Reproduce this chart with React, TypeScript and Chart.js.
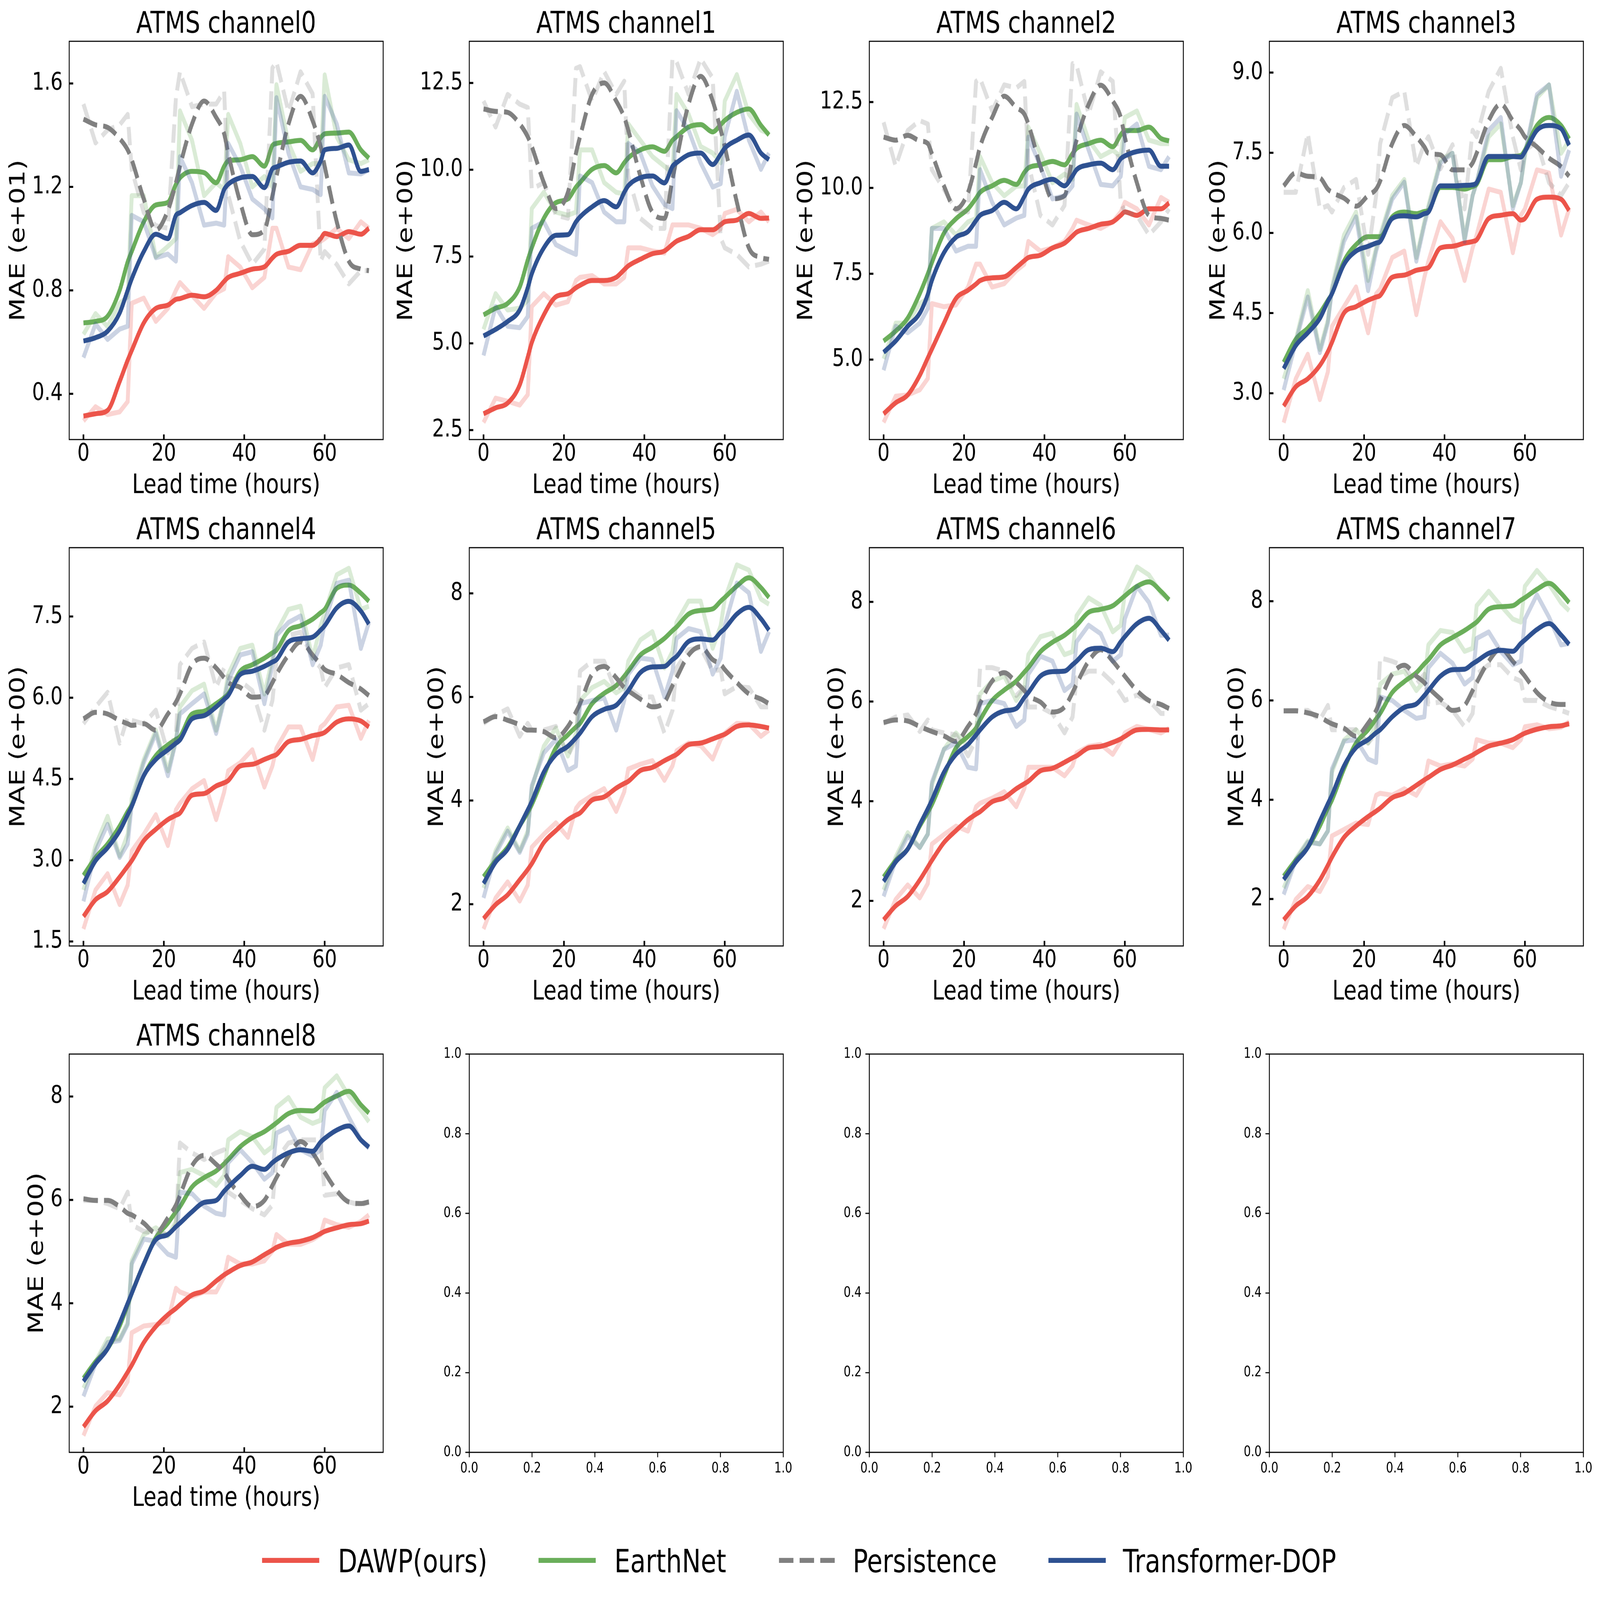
import React, { useEffect, useRef } from "react";
import { Chart, registerables } from "chart.js";

Chart.register(...registerables);

// ---------------- data ----------------
const HOURS = [0, 3, 6, 9, 12, 15, 18, 21, 24, 27, 30, 33, 36, 39, 42, 45, 48, 51, 54, 57, 60, 63, 66, 69, 71];
// extra readings just before the 12-hourly jumps
const EXTRA_HOURS = [11, 23, 35, 47, 59];
const X_TICKS = [0, 20, 40, 60];
const X_TICK_LABELS = ["0", "20", "40", "60"];
const X_TITLE = "Lead time (hours)";

const TITLES = ["ATMS channel0", "ATMS channel1", "ATMS channel2", "ATMS channel3", "ATMS channel4", "ATMS channel5", "ATMS channel6", "ATMS channel7", "ATMS channel8"];
const Y_TITLES = ["MAE (e+01)", "MAE (e+00)", "MAE (e+00)", "MAE (e+00)", "MAE (e+00)", "MAE (e+00)", "MAE (e+00)", "MAE (e+00)", "MAE (e+00)"];
const Y_MIN = [0.223, 2.227, 2.67, 2.133, 1.416, 1.193, 1.096, 1.053, 1.116];
const Y_MAX = [1.763, 13.70, 14.27, 9.586, 8.771, 8.882, 9.087, 9.079, 8.821];
const Y_TICKS = [
  [0.4, 0.8, 1.2, 1.6],
  [2.5, 5, 7.5, 10, 12.5],
  [5, 7.5, 10, 12.5],
  [3, 4.5, 6, 7.5, 9],
  [1.5, 3, 4.5, 6, 7.5],
  [2, 4, 6, 8],
  [2, 4, 6, 8],
  [2, 4, 6, 8],
  [2, 4, 6, 8],
];
const Y_TICK_LABELS = [
  ["0.4", "0.8", "1.2", "1.6"],
  ["2.5", "5.0", "7.5", "10.0", "12.5"],
  ["5.0", "7.5", "10.0", "12.5"],
  ["3.0", "4.5", "6.0", "7.5", "9.0"],
  ["1.5", "3.0", "4.5", "6.0", "7.5"],
  ["2", "4", "6", "8"],
  ["2", "4", "6", "8"],
  ["2", "4", "6", "8"],
  ["2", "4", "6", "8"],
];
const EMPTY_TICKS = [0, 0.2, 0.4, 0.6, 0.8, 1.0];
const EMPTY_TICK_LABELS = ["0.0", "0.2", "0.4", "0.6", "0.8", "1.0"];

// channel 0
const DAWP_CH0 = [0.314, 0.323, 0.336, 0.447, 0.567, 0.674, 0.73, 0.743, 0.768, 0.781, 0.775, 0.80, 0.85, 0.866, 0.882, 0.891, 0.939, 0.951, 0.974, 0.974, 1.02, 1.008, 1.027, 1.017, 1.04];
const DAWP_RAW_CH0 = [0.295, 0.35, 0.32, 0.33, 0.75, 0.77, 0.68, 0.73, 0.83, 0.78, 0.73, 0.79, 0.93, 0.89, 0.81, 0.85, 1.04, 0.89, 0.88, 0.98, 1.0, 1.04, 1.0, 1.065, 1.04];
const EARTHNET_CH0 = [0.674, 0.68, 0.70, 0.80, 0.95, 1.065, 1.13, 1.14, 1.235, 1.26, 1.255, 1.216, 1.30, 1.305, 1.317, 1.28, 1.368, 1.374, 1.38, 1.343, 1.405, 1.408, 1.412, 1.343, 1.311];
const EARTHNET_RAW_CH0 = [0.63, 0.71, 0.66, 0.75, 1.166, 1.166, 0.93, 0.97, 1.494, 1.38, 1.166, 1.216, 1.48, 1.368, 1.2, 1.24, 1.595, 1.37, 1.26, 1.29, 1.633, 1.393, 1.305, 1.29, 1.305];
const PERSIST_CH0 = [1.462, 1.44, 1.43, 1.387, 1.305, 1.153, 1.033, 1.109, 1.28, 1.443, 1.532, 1.469, 1.33, 1.14, 1.015, 1.033, 1.24, 1.443, 1.55, 1.456, 1.28, 1.065, 0.913, 0.882, 0.876];
const PERSIST_RAW_CH0 = [1.52, 1.37, 1.42, 1.44, 1.267, 1.10, 1.05, 1.04, 1.645, 1.51, 1.52, 1.52, 1.17, 0.99, 0.90, 0.96, 1.683, 1.49, 1.645, 1.56, 0.95, 0.90, 0.825, 0.876, 0.876];
const TDOP_CH0 = [0.604, 0.617, 0.642, 0.712, 0.844, 0.95, 1.017, 1.0, 1.10, 1.128, 1.14, 1.109, 1.21, 1.235, 1.24, 1.197, 1.277, 1.295, 1.30, 1.254, 1.343, 1.349, 1.362, 1.26, 1.267];
const TDOP_RAW_CH0 = [0.54, 0.67, 0.61, 0.65, 1.09, 1.065, 0.926, 0.94, 1.317, 1.216, 1.052, 1.06, 1.368, 1.28, 1.153, 1.115, 1.545, 1.33, 1.20, 1.19, 1.55, 1.443, 1.254, 1.25, 1.267];

// channel 1
const DAWP_CH1 = [2.97, 3.14, 3.28, 3.80, 5.02, 5.82, 6.34, 6.43, 6.67, 6.81, 6.81, 6.90, 7.23, 7.42, 7.58, 7.66, 7.94, 8.08, 8.27, 8.27, 8.50, 8.55, 8.74, 8.60, 8.61];
const DAWP_RAW_CH1 = [2.72, 3.42, 3.33, 3.22, 6.06, 6.43, 6.10, 6.20, 6.90, 6.95, 6.71, 6.71, 7.75, 7.75, 7.66, 7.60, 8.41, 8.41, 8.31, 8.13, 8.74, 8.86, 8.50, 8.78, 8.50];
const EARTHNET_CH1 = [5.82, 6.01, 6.15, 6.62, 7.75, 8.60, 9.05, 9.16, 9.63, 10.01, 10.12, 9.91, 10.34, 10.57, 10.66, 10.53, 10.95, 11.23, 11.30, 11.09, 11.42, 11.65, 11.75, 11.28, 11.0];
const EARTHNET_RAW_CH1 = [5.40, 6.43, 5.96, 6.01, 8.88, 9.35, 8.78, 8.69, 10.57, 10.57, 9.63, 9.35, 11.32, 10.85, 10.38, 10.10, 12.17, 11.60, 10.67, 10.48, 11.98, 12.74, 11.60, 11.14, 11.04];
const PERSIST_CH1 = [11.75, 11.68, 11.65, 11.32, 10.67, 9.63, 8.88, 9.35, 10.95, 12.17, 12.50, 11.98, 11.14, 9.82, 8.78, 8.60, 10.29, 11.89, 12.69, 11.98, 10.67, 9.07, 7.75, 7.47, 7.42];
const PERSIST_RAW_CH1 = [11.98, 11.23, 12.17, 11.89, 9.44, 9.63, 8.69, 8.60, 12.97, 11.98, 12.83, 12.17, 9.82, 8.60, 8.31, 8.31, 13.11, 12.17, 13.20, 12.64, 7.75, 7.56, 7.20, 7.28, 7.37];
const TDOP_CH1 = [5.21, 5.40, 5.63, 5.96, 7.0, 7.75, 8.11, 8.13, 8.64, 8.93, 9.11, 8.93, 9.54, 9.77, 9.82, 9.62, 10.20, 10.43, 10.48, 10.15, 10.62, 10.85, 11.0, 10.48, 10.29];
const TDOP_RAW_CH1 = [4.65, 6.06, 5.49, 5.45, 8.31, 8.50, 7.84, 7.66, 9.82, 9.63, 8.78, 8.50, 10.76, 10.48, 9.54, 9.0, 11.70, 11.14, 10.20, 9.50, 10.95, 12.26, 10.85, 10.01, 10.48];

// channel 2
const DAWP_CH2 = [3.42, 3.74, 3.97, 4.54, 5.30, 6.06, 6.78, 7.02, 7.30, 7.38, 7.41, 7.68, 7.97, 8.04, 8.25, 8.39, 8.71, 8.82, 8.94, 9.01, 9.30, 9.20, 9.39, 9.39, 9.56];
const DAWP_RAW_CH2 = [3.17, 3.93, 3.97, 4.12, 6.63, 6.54, 6.59, 7.11, 7.78, 7.11, 7.21, 7.59, 8.44, 8.16, 8.25, 8.44, 9.06, 8.92, 8.82, 9.01, 9.58, 9.39, 8.92, 9.72, 9.58];
const EARTHNET_CH2 = [5.54, 5.83, 6.21, 6.92, 7.82, 8.68, 9.10, 9.39, 9.87, 10.06, 10.22, 10.10, 10.58, 10.67, 10.77, 10.67, 11.15, 11.29, 11.39, 11.20, 11.67, 11.67, 11.77, 11.44, 11.37];
const EARTHNET_RAW_CH2 = [5.02, 6.06, 6.06, 6.63, 8.82, 9.01, 8.63, 9.01, 10.91, 10.15, 9.77, 10.05, 11.77, 11.0, 10.15, 10.40, 12.43, 11.39, 10.91, 11.10, 12.05, 12.24, 11.39, 11.29, 11.29];
const PERSIST_CH2 = [11.48, 11.39, 11.53, 11.37, 11.0, 10.06, 9.39, 9.87, 11.20, 12.05, 12.67, 12.34, 11.86, 10.63, 9.68, 9.77, 11.39, 12.43, 12.99, 12.53, 11.48, 10.15, 9.20, 9.11, 9.06];
const PERSIST_RAW_CH2 = [11.91, 10.63, 11.67, 11.96, 10.53, 9.96, 9.35, 9.30, 13.19, 12.24, 13.0, 12.91, 10.72, 9.20, 8.92, 9.49, 13.57, 12.15, 13.38, 13.10, 9.30, 9.20, 8.63, 9.01, 9.39];
const TDOP_CH2 = [5.21, 5.54, 5.97, 6.35, 7.30, 8.11, 8.56, 8.73, 9.20, 9.34, 9.58, 9.39, 9.96, 10.15, 10.25, 10.06, 10.53, 10.67, 10.72, 10.53, 10.93, 11.06, 11.10, 10.63, 10.63];
const TDOP_RAW_CH2 = [4.69, 5.97, 5.78, 6.06, 8.82, 8.82, 8.16, 8.30, 10.53, 9.58, 8.92, 9.12, 11.48, 10.63, 9.68, 9.77, 12.15, 11.10, 10.10, 10.06, 11.58, 11.86, 10.63, 10.53, 10.91];

// channel 3
const DAWP_CH3 = [2.76, 3.12, 3.27, 3.52, 3.95, 4.50, 4.62, 4.74, 4.83, 5.17, 5.21, 5.30, 5.35, 5.72, 5.75, 5.81, 5.87, 6.27, 6.33, 6.36, 6.27, 6.63, 6.67, 6.63, 6.42];
const DAWP_RAW_CH3 = [2.45, 3.27, 3.73, 2.88, 4.25, 4.62, 4.99, 4.13, 4.95, 5.54, 5.66, 4.47, 5.47, 6.21, 5.90, 5.11, 5.96, 6.82, 6.76, 5.63, 6.45, 7.18, 7.12, 5.96, 6.45];
const EARTHNET_CH3 = [3.58, 4.01, 4.22, 4.50, 4.86, 5.47, 5.78, 5.93, 5.93, 6.30, 6.39, 6.36, 6.42, 6.85, 6.85, 6.82, 6.91, 7.37, 7.37, 7.43, 7.55, 8.01, 8.16, 8.01, 7.76];
const EARTHNET_RAW_CH3 = [3.27, 4.0, 4.92, 3.82, 4.98, 5.96, 6.39, 5.11, 5.96, 6.70, 7.0, 5.54, 6.51, 7.37, 7.49, 5.90, 6.94, 7.80, 8.04, 6.51, 7.43, 8.53, 8.77, 7.49, 7.73];
const PERSIST_CH3 = [6.88, 7.12, 7.06, 7.03, 6.76, 6.65, 6.50, 6.70, 6.97, 7.67, 8.01, 7.80, 7.49, 7.46, 7.18, 7.18, 7.49, 8.10, 8.41, 8.10, 7.80, 7.61, 7.40, 7.24, 7.06];
const PERSIST_RAW_CH3 = [6.76, 6.76, 7.86, 6.45, 6.39, 6.85, 7.0, 5.60, 7.67, 8.53, 8.65, 7.24, 7.80, 7.20, 7.65, 6.45, 7.80, 8.65, 9.08, 7.80, 7.55, 7.70, 6.94, 6.70, 6.94];
const TDOP_CH3 = [3.46, 3.89, 4.13, 4.40, 4.86, 5.41, 5.66, 5.75, 5.84, 6.27, 6.32, 6.30, 6.39, 6.88, 6.88, 6.89, 6.94, 7.43, 7.43, 7.43, 7.52, 7.92, 8.01, 7.95, 7.64];
const TDOP_RAW_CH3 = [3.06, 3.95, 4.80, 3.76, 4.92, 5.84, 6.30, 4.92, 5.90, 6.63, 6.95, 5.47, 6.45, 7.31, 7.49, 5.84, 6.94, 7.92, 8.16, 6.45, 7.49, 8.59, 8.77, 7.06, 7.55];

// channel 4
const DAWP_CH4 = [1.96, 2.27, 2.42, 2.69, 2.99, 3.36, 3.57, 3.75, 3.87, 4.20, 4.23, 4.37, 4.47, 4.74, 4.77, 4.86, 4.95, 5.19, 5.23, 5.30, 5.36, 5.55, 5.61, 5.57, 5.46];
const DAWP_RAW_CH4 = [1.73, 2.45, 2.75, 2.18, 3.17, 3.48, 3.84, 3.27, 4.05, 4.32, 4.47, 3.75, 4.65, 4.80, 5.04, 4.35, 5.07, 5.46, 5.46, 4.86, 5.52, 5.83, 5.86, 5.25, 5.58];
const EARTHNET_CH4 = [2.72, 3.05, 3.30, 3.63, 4.02, 4.56, 4.93, 5.13, 5.28, 5.70, 5.75, 5.89, 6.07, 6.49, 6.61, 6.73, 6.88, 7.24, 7.33, 7.45, 7.63, 8.02, 8.08, 7.93, 7.78];
const EARTHNET_RAW_CH4 = [2.45, 3.27, 3.81, 3.08, 4.14, 4.86, 5.40, 4.65, 5.83, 6.13, 6.25, 5.40, 6.43, 6.91, 6.97, 6.07, 7.21, 7.63, 7.69, 6.73, 7.57, 8.27, 8.39, 7.63, 7.69];
const PERSIST_CH4 = [5.61, 5.73, 5.70, 5.58, 5.49, 5.52, 5.40, 5.70, 6.07, 6.61, 6.73, 6.55, 6.28, 6.19, 6.01, 6.04, 6.43, 6.79, 7.03, 6.79, 6.52, 6.43, 6.28, 6.16, 6.04];
const PERSIST_RAW_CH4 = [5.52, 5.83, 6.10, 5.16, 5.58, 5.52, 5.77, 4.98, 6.61, 6.91, 7.03, 6.19, 6.37, 6.31, 6.13, 5.40, 6.67, 7.15, 7.21, 6.73, 6.19, 6.55, 6.61, 5.77, 5.89];
const TDOP_CH4 = [2.57, 2.99, 3.23, 3.54, 3.99, 4.56, 4.86, 5.04, 5.22, 5.61, 5.67, 5.83, 6.04, 6.43, 6.49, 6.58, 6.70, 7.03, 7.09, 7.12, 7.33, 7.66, 7.78, 7.60, 7.36];
const TDOP_RAW_CH4 = [2.24, 3.17, 3.66, 3.05, 4.02, 4.80, 5.34, 4.56, 5.70, 5.89, 6.07, 5.34, 6.31, 6.79, 6.85, 5.89, 7.15, 7.39, 7.51, 6.61, 7.39, 8.11, 8.17, 6.91, 7.39];

// channel 5
const DAWP_CH5 = [1.72, 1.99, 2.18, 2.47, 2.78, 3.19, 3.42, 3.63, 3.76, 4.01, 4.07, 4.24, 4.37, 4.58, 4.64, 4.77, 4.89, 5.08, 5.11, 5.19, 5.28, 5.43, 5.46, 5.43, 5.40];
const DAWP_RAW_CH5 = [1.52, 2.12, 2.43, 2.06, 3.10, 3.35, 3.57, 3.29, 3.95, 4.10, 4.23, 3.79, 4.61, 4.70, 4.77, 4.39, 4.96, 5.11, 5.06, 4.80, 5.30, 5.49, 5.48, 5.24, 5.36];
const EARTHNET_CH5 = [2.53, 2.84, 3.10, 3.51, 3.92, 4.48, 5.02, 5.27, 5.49, 5.87, 6.07, 6.22, 6.50, 6.81, 6.96, 7.13, 7.35, 7.60, 7.67, 7.70, 7.92, 8.14, 8.30, 8.11, 7.92];
const EARTHNET_RAW_CH5 = [2.31, 3.03, 3.47, 3.03, 4.23, 5.05, 5.40, 4.86, 5.93, 6.18, 6.30, 6.08, 6.69, 7.10, 7.26, 6.56, 7.44, 7.85, 7.85, 6.94, 7.89, 8.55, 8.45, 7.89, 7.79];
const PERSIST_CH5 = [5.52, 5.62, 5.55, 5.46, 5.36, 5.33, 5.21, 5.43, 5.87, 6.44, 6.59, 6.37, 6.12, 5.96, 5.81, 5.90, 6.37, 6.81, 6.97, 6.72, 6.53, 6.28, 6.06, 5.96, 5.87];
const PERSIST_RAW_CH5 = [5.49, 5.65, 5.77, 5.24, 5.36, 5.36, 5.43, 4.86, 6.50, 6.69, 6.69, 6.09, 6.18, 6.0, 6.0, 5.30, 6.56, 6.91, 6.95, 6.50, 6.06, 6.20, 6.18, 5.81, 5.81];
const TDOP_CH5 = [2.40, 2.81, 3.06, 3.51, 3.98, 4.55, 4.89, 5.05, 5.30, 5.62, 5.76, 5.84, 6.12, 6.47, 6.58, 6.59, 6.78, 7.07, 7.12, 7.10, 7.32, 7.60, 7.73, 7.51, 7.29];
const TDOP_RAW_CH5 = [2.12, 2.97, 3.41, 3.0, 4.29, 4.92, 5.18, 4.58, 5.87, 5.93, 5.98, 5.36, 6.44, 6.75, 6.72, 6.0, 7.13, 7.32, 7.26, 6.44, 7.38, 8.20, 8.01, 6.88, 7.26];

// channel 6
const DAWP_CH6 = [1.62, 1.90, 2.09, 2.42, 2.81, 3.17, 3.41, 3.63, 3.79, 3.99, 4.07, 4.25, 4.40, 4.61, 4.66, 4.78, 4.91, 5.07, 5.10, 5.18, 5.30, 5.43, 5.44, 5.43, 5.43];
const DAWP_RAW_CH6 = [1.44, 2.03, 2.32, 2.06, 3.14, 3.33, 3.50, 3.40, 3.96, 4.06, 4.19, 3.89, 4.68, 4.68, 4.68, 4.51, 4.97, 5.10, 5.14, 4.94, 5.37, 5.50, 5.44, 5.37, 5.46];
const EARTHNET_CH6 = [2.48, 2.81, 3.04, 3.50, 3.93, 4.51, 5.07, 5.30, 5.63, 6.02, 6.23, 6.41, 6.68, 7.0, 7.19, 7.33, 7.53, 7.79, 7.85, 7.92, 8.12, 8.31, 8.40, 8.21, 8.04];
const EARTHNET_RAW_CH6 = [2.22, 2.88, 3.37, 3.07, 4.32, 5.04, 5.37, 5.10, 6.15, 6.41, 6.51, 6.02, 6.94, 7.30, 7.37, 6.94, 7.72, 8.08, 7.93, 7.40, 8.18, 8.70, 8.54, 8.18, 8.05];
const PERSIST_CH6 = [5.58, 5.63, 5.61, 5.50, 5.40, 5.31, 5.20, 5.50, 5.96, 6.41, 6.58, 6.38, 6.12, 5.99, 5.79, 5.89, 6.35, 6.81, 7.04, 6.81, 6.51, 6.22, 6.02, 5.94, 5.86];
const PERSIST_RAW_CH6 = [5.56, 5.69, 5.73, 5.40, 5.43, 5.37, 5.33, 4.91, 6.68, 6.68, 6.61, 6.12, 5.89, 5.89, 5.76, 5.37, 6.48, 6.61, 6.61, 6.38, 6.02, 6.13, 6.02, 5.76, 5.76];
const TDOP_CH6 = [2.39, 2.78, 3.04, 3.53, 4.02, 4.58, 4.94, 5.14, 5.43, 5.69, 5.81, 5.86, 6.18, 6.51, 6.60, 6.61, 6.81, 7.04, 7.07, 7.0, 7.30, 7.56, 7.67, 7.43, 7.23];
const TDOP_RAW_CH6 = [2.09, 2.81, 3.30, 3.07, 4.38, 5.04, 5.17, 4.68, 5.96, 6.02, 5.96, 5.50, 6.55, 6.91, 6.81, 6.22, 7.20, 7.53, 7.36, 6.81, 7.66, 8.31, 7.99, 7.33, 7.33];

// channel 7
const DAWP_CH7 = [1.58, 1.86, 2.05, 2.38, 2.84, 3.24, 3.47, 3.66, 3.83, 4.04, 4.13, 4.29, 4.45, 4.61, 4.70, 4.82, 4.95, 5.08, 5.14, 5.21, 5.34, 5.42, 5.47, 5.49, 5.53];
const DAWP_RAW_CH7 = [1.39, 1.99, 2.25, 2.15, 3.27, 3.40, 3.53, 3.50, 4.13, 4.09, 4.22, 4.09, 4.78, 4.68, 4.72, 4.68, 5.21, 5.14, 5.14, 5.05, 5.47, 5.51, 5.43, 5.46, 5.57];
const EARTHNET_CH7 = [2.46, 2.78, 3.04, 3.47, 3.99, 4.62, 5.14, 5.41, 5.74, 6.16, 6.38, 6.56, 6.82, 7.12, 7.27, 7.41, 7.58, 7.84, 7.89, 7.91, 8.07, 8.24, 8.36, 8.16, 7.97];
const EARTHNET_RAW_CH7 = [2.22, 2.81, 3.17, 3.11, 4.55, 5.20, 5.41, 5.14, 6.33, 6.53, 6.59, 6.20, 7.12, 7.41, 7.37, 6.99, 7.91, 8.20, 7.91, 7.64, 8.30, 8.62, 8.34, 7.97, 7.81];
const PERSIST_CH7 = [5.79, 5.79, 5.75, 5.67, 5.53, 5.44, 5.28, 5.54, 6.0, 6.53, 6.71, 6.49, 6.26, 6.03, 5.80, 5.90, 6.36, 6.79, 7.04, 6.79, 6.49, 6.16, 5.97, 5.92, 5.92];
const PERSIST_RAW_CH7 = [5.79, 5.80, 5.80, 5.61, 5.41, 5.41, 5.41, 5.14, 6.86, 6.79, 6.69, 6.33, 5.93, 5.97, 5.80, 5.47, 6.53, 6.72, 6.72, 6.46, 6.0, 6.0, 5.88, 5.80, 5.74];
const TDOP_CH7 = [2.39, 2.74, 3.04, 3.57, 4.09, 4.68, 5.05, 5.21, 5.41, 5.67, 5.86, 5.93, 6.20, 6.49, 6.62, 6.63, 6.79, 6.95, 7.01, 6.99, 7.22, 7.43, 7.55, 7.32, 7.13];
const TDOP_RAW_CH7 = [2.09, 2.78, 3.14, 3.11, 4.62, 5.18, 5.21, 4.82, 6.07, 6.0, 5.80, 5.64, 6.66, 6.95, 6.75, 6.33, 7.25, 7.38, 6.99, 6.72, 7.64, 8.13, 7.68, 7.12, 7.15];

// channel 8
const DAWP_CH8 = [1.61, 1.92, 2.11, 2.42, 2.80, 3.24, 3.55, 3.78, 3.97, 4.16, 4.24, 4.43, 4.60, 4.73, 4.80, 4.94, 5.08, 5.16, 5.20, 5.27, 5.39, 5.46, 5.52, 5.54, 5.59];
const DAWP_RAW_CH8 = [1.44, 2.01, 2.27, 2.23, 3.43, 3.56, 3.59, 3.65, 4.22, 4.13, 4.22, 4.22, 4.89, 4.76, 4.76, 4.82, 5.33, 5.14, 5.14, 5.23, 5.61, 5.52, 5.47, 5.58, 5.71];
const EARTHNET_CH8 = [2.55, 2.87, 3.12, 3.56, 4.19, 4.76, 5.27, 5.55, 5.87, 6.25, 6.43, 6.56, 6.78, 7.03, 7.20, 7.32, 7.49, 7.67, 7.73, 7.72, 7.89, 8.01, 8.10, 7.84, 7.68];
const EARTHNET_RAW_CH8 = [2.36, 2.87, 3.31, 3.31, 4.82, 5.33, 5.46, 5.30, 6.53, 6.59, 6.47, 6.28, 7.16, 7.32, 7.22, 6.91, 7.79, 7.98, 7.60, 7.48, 8.17, 8.40, 8.01, 7.73, 7.51];
const PERSIST_CH8 = [6.02, 5.99, 5.99, 5.87, 5.71, 5.55, 5.36, 5.65, 6.09, 6.66, 6.86, 6.69, 6.40, 6.09, 5.87, 5.99, 6.43, 6.85, 7.13, 6.91, 6.53, 6.18, 5.96, 5.93, 5.96];
const PERSIST_RAW_CH8 = [5.99, 5.99, 5.93, 5.83, 5.52, 5.39, 5.36, 5.33, 7.10, 6.91, 6.78, 6.91, 6.15, 5.99, 5.83, 5.71, 6.78, 7.10, 7.16, 7.16, 6.09, 6.12, 5.96, 5.90, 5.96];
const TDOP_CH8 = [2.49, 2.83, 3.12, 3.62, 4.19, 4.76, 5.23, 5.33, 5.55, 5.77, 5.95, 5.99, 6.25, 6.47, 6.65, 6.59, 6.78, 6.91, 6.97, 6.94, 7.19, 7.35, 7.43, 7.16, 7.02];
const TDOP_RAW_CH8 = [2.20, 2.83, 3.24, 3.28, 4.76, 5.24, 5.20, 4.95, 6.15, 6.12, 5.88, 5.74, 6.72, 6.97, 6.72, 6.40, 7.29, 7.41, 6.97, 6.85, 7.73, 8.08, 7.60, 7.16, 7.0];

// readings at EXTRA_HOURS (11, 23, 35, 47, 59), one row per channel
const DAWP_EXTRA = [
  [0.53, 0.765, 0.835, 0.925, 1.00],
  [4.6, 6.6, 7.12, 7.85, 8.42],
  [5.05, 7.2, 7.88, 8.6, 9.2],
  [3.78, 4.80, 5.33, 5.84, 6.24],
  [2.89, 3.83, 4.43, 4.92, 5.33],
  [2.67, 3.72, 4.33, 4.85, 5.25],
  [2.68, 3.74, 4.35, 4.87, 5.25],
  [2.68, 3.77, 4.40, 4.90, 5.30],
  [2.67, 3.90, 4.55, 5.03, 5.35],
];
const DAWP_RAW_EXTRA = [
  [0.37, 0.80, 0.806, 1.04, 0.99],
  [3.52, 6.81, 6.90, 8.41, 8.3],
  [4.45, 7.78, 7.78, 8.82, 9.3],
  [3.40, 4.86, 5.17, 5.72, 6.33],
  [2.54, 3.93, 4.26, 4.74, 5.46],
  [2.37, 3.85, 4.17, 4.67, 5.18],
  [2.35, 3.89, 4.25, 4.71, 5.20],
  [2.45, 4.09, 4.36, 4.82, 5.21],
  [2.49, 4.29, 4.51, 5.01, 5.33],
];
const EARTHNET_EXTRA = [
  [0.91, 1.21, 1.28, 1.36, 1.39],
  [7.4, 9.5, 10.2, 10.85, 11.3],
  [7.5, 9.7, 10.45, 11.0, 11.55],
  [4.74, 5.93, 6.40, 6.87, 7.45],
  [3.9, 5.23, 6.0, 6.83, 7.57],
  [3.77, 5.42, 6.40, 7.28, 7.85],
  [3.78, 5.47, 6.59, 7.46, 8.05],
  [3.83, 5.63, 6.74, 7.52, 8.02],
  [3.97, 5.77, 6.70, 7.43, 7.83],
];
const EARTHNET_RAW_EXTRA = [
  [0.775, 1.0, 1.19, 1.20, 1.29],
  [6.24, 8.78, 9.30, 9.91, 10.2],
  [6.78, 9.11, 10.06, 10.25, 10.91],
  [4.37, 5.72, 6.21, 6.70, 6.94],
  [3.48, 5.22, 6.01, 6.73, 7.33],
  [3.41, 5.30, 6.18, 6.88, 7.38],
  [3.34, 5.43, 6.28, 7.0, 7.53],
  [3.37, 5.54, 6.39, 7.05, 7.58],
  [3.62, 5.58, 6.47, 7.03, 7.54],
];
const PERSIST_EXTRA = [
  [1.343, 1.216, 1.405, 1.166, 1.355],
  [10.95, 10.48, 11.51, 9.73, 11.14],
  [11.29, 10.72, 12.15, 10.91, 12.05],
  [6.82, 6.82, 7.61, 7.31, 7.92],
  [5.52, 5.92, 6.37, 6.28, 6.61],
  [5.36, 5.71, 6.18, 6.22, 6.63],
  [5.43, 5.76, 6.22, 6.18, 6.61],
  [5.57, 5.80, 6.36, 6.20, 6.59],
  [5.74, 5.90, 6.53, 6.28, 6.66],
];
const PERSIST_RAW_EXTRA = [
  [1.48, 1.545, 1.57, 1.66, 0.913],
  [11.79, 12.92, 12.55, 13.2, 8.03],
  [11.86, 13.1, 13.1, 13.62, 9.58],
  [6.51, 6.70, 7.67, 7.92, 7.18],
  [5.64, 5.34, 6.55, 5.95, 6.55],
  [5.49, 5.18, 6.37, 5.74, 6.53],
  [5.63, 5.24, 6.28, 5.69, 6.15],
  [5.90, 5.34, 6.53, 5.74, 6.39],
  [6.15, 5.52, 6.97, 5.90, 7.16],
];
const TDOP_EXTRA = [
  [0.80, 1.09, 1.19, 1.27, 1.30],
  [6.6, 8.5, 9.35, 10.1, 10.45],
  [6.9, 9.05, 9.75, 10.35, 10.85],
  [4.72, 5.81, 6.36, 6.90, 7.42],
  [3.84, 5.16, 5.97, 6.66, 7.25],
  [3.82, 5.21, 6.02, 6.72, 7.25],
  [3.85, 5.33, 6.08, 6.74, 7.2],
  [3.92, 5.35, 6.1, 6.74, 7.15],
  [4.0, 5.48, 6.17, 6.72, 7.12],
];
const TDOP_RAW_EXTRA = [
  [0.661, 0.913, 1.052, 1.08, 1.17],
  [5.77, 7.56, 8.50, 8.88, 9.6],
  [6.49, 8.30, 9.20, 10.06, 10.34],
  [4.31, 5.66, 6.15, 6.70, 6.94],
  [3.30, 5.2, 5.95, 6.6, 6.97],
  [3.35, 4.67, 5.93, 6.50, 6.75],
  [3.34, 4.65, 5.63, 6.35, 6.94],
  [3.37, 4.75, 5.67, 6.46, 6.79],
  [3.59, 4.89, 5.71, 6.53, 6.97],
];

const DAWP = [DAWP_CH0, DAWP_CH1, DAWP_CH2, DAWP_CH3, DAWP_CH4, DAWP_CH5, DAWP_CH6, DAWP_CH7, DAWP_CH8];
const DAWP_RAW = [DAWP_RAW_CH0, DAWP_RAW_CH1, DAWP_RAW_CH2, DAWP_RAW_CH3, DAWP_RAW_CH4, DAWP_RAW_CH5, DAWP_RAW_CH6, DAWP_RAW_CH7, DAWP_RAW_CH8];
const EARTHNET = [EARTHNET_CH0, EARTHNET_CH1, EARTHNET_CH2, EARTHNET_CH3, EARTHNET_CH4, EARTHNET_CH5, EARTHNET_CH6, EARTHNET_CH7, EARTHNET_CH8];
const EARTHNET_RAW = [EARTHNET_RAW_CH0, EARTHNET_RAW_CH1, EARTHNET_RAW_CH2, EARTHNET_RAW_CH3, EARTHNET_RAW_CH4, EARTHNET_RAW_CH5, EARTHNET_RAW_CH6, EARTHNET_RAW_CH7, EARTHNET_RAW_CH8];
const PERSIST = [PERSIST_CH0, PERSIST_CH1, PERSIST_CH2, PERSIST_CH3, PERSIST_CH4, PERSIST_CH5, PERSIST_CH6, PERSIST_CH7, PERSIST_CH8];
const PERSIST_RAW = [PERSIST_RAW_CH0, PERSIST_RAW_CH1, PERSIST_RAW_CH2, PERSIST_RAW_CH3, PERSIST_RAW_CH4, PERSIST_RAW_CH5, PERSIST_RAW_CH6, PERSIST_RAW_CH7, PERSIST_RAW_CH8];
const TDOP = [TDOP_CH0, TDOP_CH1, TDOP_CH2, TDOP_CH3, TDOP_CH4, TDOP_CH5, TDOP_CH6, TDOP_CH7, TDOP_CH8];
const TDOP_RAW = [TDOP_RAW_CH0, TDOP_RAW_CH1, TDOP_RAW_CH2, TDOP_RAW_CH3, TDOP_RAW_CH4, TDOP_RAW_CH5, TDOP_RAW_CH6, TDOP_RAW_CH7, TDOP_RAW_CH8];

const SERIES_NAMES = ["DAWP(ours)", "EarthNet", "Persistence", "Transformer-DOP"];

// ---------------- styles / layout ----------------
const FONT = "'DejaVu Sans', 'Liberation Sans', sans-serif";
const COLORS = [
  [236, 84, 74],
  [106, 174, 90],
  [128, 128, 128],
  [46, 81, 145],
];
const DASHES = [[], [], [54, 23], []];
const LINE_W = 14.6;
const RAW_ALPHA = 0.25;

const FIG_W = 5967;
const FIG_H = 4692;
const AX_W = 1171;
const AX_H = 1168;
const COL_LEFT = [258, 1750, 3242, 4734];
const ROW_TOP = [121, 1606, 3091];
const TOP_PAD = 121;
const RIGHT_PAD = 60;
const BOTTOM_H = 200;
const TICK_FONT = 72;
const LABEL_FONT = 79;
const TITLE_FONT = 88;
const EMPTY_FONT = 42;

const LEGEND_Y = 4576;
const LEGEND_LINE_X = [977, 2008, 2905, 3910];
const LEGEND_LINE_LEN = 214;
const LEGEND_TEXT_X = [1260, 2291, 3180, 4188];
const LEGEND_FONT = 94;

function measure(text: string, size: number): number {
  const c = document.createElement("canvas").getContext("2d");
  if (!c) return text.length * size * 0.6;
  c.font = `${size}px ${FONT}`;
  return c.measureText(text).width;
}

const mplFrame = {
  id: "mplFrame",
  afterDatasetsDraw(chart: any, _args: any, opts: any) {
    const { ctx, chartArea: a } = chart;
    const xs = chart.scales.x;
    const ys = chart.scales.y;
    ctx.save();
    ctx.strokeStyle = "#000";
    ctx.lineCap = "butt";
    ctx.lineWidth = opts.tickWidth;
    const dir = opts.tickDir;
    const len = opts.tickLen;
    ctx.beginPath();
    xs.ticks.forEach((t: any) => {
      const px = xs.getPixelForValue(t.value);
      ctx.moveTo(px, a.bottom);
      ctx.lineTo(px, a.bottom - dir * len);
    });
    ys.ticks.forEach((t: any) => {
      const py = ys.getPixelForValue(t.value);
      ctx.moveTo(a.left, py);
      ctx.lineTo(a.left + dir * len, py);
    });
    ctx.stroke();
    ctx.lineWidth = 3.3;
    ctx.strokeRect(a.left, a.top, a.right - a.left, a.bottom - a.top);
    if (opts.title) {
      ctx.fillStyle = "#000";
      ctx.font = `${TITLE_FONT}px ${FONT}`;
      ctx.textAlign = "center";
      ctx.textBaseline = "alphabetic";
      ctx.fillText(opts.title, (a.left + a.right) / 2, a.top - 25);
    }
    ctx.restore();
  },
};

function buildPoints(values: number[], extra: number[]) {
  const pts = HOURS.map((h, i) => ({ x: h, y: values[i] }));
  EXTRA_HOURS.forEach((h, i) => pts.push({ x: h, y: extra[i] }));
  pts.sort((a, b) => a.x - b.x);
  return pts;
}

function lineDataset(values: number[], extra: number[], rgb: number[], alpha: number, dash: number[], smooth: boolean, label: string) {
  return {
    label,
    data: buildPoints(values, extra),
    borderColor: `rgba(${rgb[0]},${rgb[1]},${rgb[2]},${alpha})`,
    backgroundColor: `rgba(${rgb[0]},${rgb[1]},${rgb[2]},${alpha})`,
    borderWidth: LINE_W,
    borderDash: dash,
    borderCapStyle: "butt",
    borderJoinStyle: "round",
    pointRadius: 0,
    pointHoverRadius: 0,
    fill: false,
    tension: smooth ? 0.35 : 0,
    cubicInterpolationMode: smooth ? "monotone" : "default",
  };
}

type Layout = { left: number; top: number; w: number; h: number; L: number; kind: "data" | "empty"; k: number };

function computeLayouts(): Layout[] {
  const out: Layout[] = [];
  for (let k = 0; k < 12; k++) {
    const col = k % 4;
    const row = Math.floor(k / 4);
    const axLeft = COL_LEFT[col];
    const axTop = ROW_TOP[row];
    let L = 258;
    if (k < 9) {
      const maxW = Math.max(...Y_TICK_LABELS[k].map((s) => measure(s, TICK_FONT)));
      const dist = 26 + maxW + 47; // distance from spine to y-title centre
      L = Math.round(dist + LABEL_FONT * 0.6 + 18);
    }
    out.push({
      left: axLeft - L,
      top: axTop - TOP_PAD,
      w: L + AX_W + RIGHT_PAD,
      h: TOP_PAD + AX_H + BOTTOM_H,
      L,
      kind: k < 9 ? "data" : "empty",
      k,
    });
  }
  return out;
}

function dataConfig(k: number, L: number): any {
  const datasets: any[] = [];
  const smoothSets = [DAWP, EARTHNET, PERSIST, TDOP];
  const smoothExtra = [DAWP_EXTRA, EARTHNET_EXTRA, PERSIST_EXTRA, TDOP_EXTRA];
  const rawSets = [DAWP_RAW, EARTHNET_RAW, PERSIST_RAW, TDOP_RAW];
  const rawExtra = [DAWP_RAW_EXTRA, EARTHNET_RAW_EXTRA, PERSIST_RAW_EXTRA, TDOP_RAW_EXTRA];
  // the first dataset is painted on top
  for (let s = 3; s >= 0; s--) {
    datasets.push(lineDataset(smoothSets[s][k], smoothExtra[s][k], COLORS[s], 1, DASHES[s], true, SERIES_NAMES[s]));
    datasets.push(lineDataset(rawSets[s][k], rawExtra[s][k], COLORS[s], RAW_ALPHA, DASHES[s], false, SERIES_NAMES[s] + " raw"));
  }
  return {
    type: "line",
    data: { datasets },
    plugins: [mplFrame],
    options: {
      animation: false,
      responsive: false,
      devicePixelRatio: 1,
      events: [],
      layout: { padding: { left: 0, top: TOP_PAD, right: RIGHT_PAD, bottom: 0 } },
      plugins: {
        legend: { display: false },
        tooltip: { enabled: false },
        mplFrame: { tickDir: 1, tickLen: 15, tickWidth: 6, title: TITLES[k] },
      },
      scales: {
        x: {
          type: "linear",
          min: -3.55,
          max: 74.55,
          bounds: "data",
          afterBuildTicks: (s: any) => {
            s.ticks = X_TICKS.map((v) => ({ value: v }));
          },
          afterFit: (s: any) => {
            s.height = BOTTOM_H;
          },
          grid: { display: false, drawTicks: false },
          border: { display: false },
          ticks: {
            color: "#000",
            font: { family: FONT, size: TICK_FONT },
            padding: 0,
            maxRotation: 0,
            autoSkip: false,
            callback: (_v: any, i: number) => X_TICK_LABELS[i],
          },
          title: {
            display: true,
            text: X_TITLE,
            color: "#000",
            font: { family: FONT, size: LABEL_FONT },
            padding: { top: 0, bottom: 16 },
          },
        },
        y: {
          type: "linear",
          min: Y_MIN[k],
          max: Y_MAX[k],
          bounds: "data",
          afterBuildTicks: (s: any) => {
            s.ticks = Y_TICKS[k].map((v) => ({ value: v }));
          },
          afterFit: (s: any) => {
            s.width = L;
          },
          grid: { display: false, drawTicks: false },
          border: { display: false },
          ticks: {
            color: "#000",
            font: { family: FONT, size: TICK_FONT },
            padding: 24,
            autoSkip: false,
            callback: (_v: any, i: number) => Y_TICK_LABELS[k][i],
          },
          title: {
            display: true,
            text: Y_TITLES[k],
            color: "#000",
            font: { family: FONT, size: LABEL_FONT },
            padding: { top: 18, bottom: 0 },
          },
        },
      },
    },
  };
}

function emptyConfig(L: number): any {
  return {
    type: "line",
    data: { datasets: [] },
    plugins: [mplFrame],
    options: {
      animation: false,
      responsive: false,
      devicePixelRatio: 1,
      events: [],
      layout: { padding: { left: 0, top: TOP_PAD, right: RIGHT_PAD, bottom: 0 } },
      plugins: {
        legend: { display: false },
        tooltip: { enabled: false },
        mplFrame: { tickDir: -1, tickLen: 14.6, tickWidth: 3.3, title: "" },
      },
      scales: {
        x: {
          type: "linear",
          min: 0,
          max: 1,
          bounds: "data",
          afterBuildTicks: (s: any) => {
            s.ticks = EMPTY_TICKS.map((v) => ({ value: v }));
          },
          afterFit: (s: any) => {
            s.height = BOTTOM_H;
          },
          grid: { display: false, drawTicks: false },
          border: { display: false },
          ticks: {
            color: "#000",
            font: { family: FONT, size: EMPTY_FONT },
            padding: 23,
            maxRotation: 0,
            autoSkip: false,
            callback: (_v: any, i: number) => EMPTY_TICK_LABELS[i],
          },
        },
        y: {
          type: "linear",
          min: 0,
          max: 1,
          bounds: "data",
          afterBuildTicks: (s: any) => {
            s.ticks = EMPTY_TICKS.map((v) => ({ value: v }));
          },
          afterFit: (s: any) => {
            s.width = L;
          },
          grid: { display: false, drawTicks: false },
          border: { display: false },
          ticks: {
            color: "#000",
            font: { family: FONT, size: EMPTY_FONT },
            padding: 29,
            autoSkip: false,
            callback: (_v: any, i: number) => EMPTY_TICK_LABELS[i],
          },
        },
      },
    },
  };
}

export default function App() {
  const refs = useRef<(HTMLCanvasElement | null)[]>([]);
  const layoutsRef = useRef<Layout[] | null>(null);
  if (!layoutsRef.current) layoutsRef.current = computeLayouts();
  const layouts = layoutsRef.current;

  // the browser viewport may be smaller than the figure: fit the whole figure into it
  const vw = typeof window !== "undefined" ? window.innerWidth || FIG_W : FIG_W;
  const vh = typeof window !== "undefined" ? window.innerHeight || FIG_H : FIG_H;
  const sx = Math.min(1, vw / FIG_W);
  const sy = Math.min(1, vh / FIG_H);

  useEffect(() => {
    const charts: Chart[] = [];
    layouts.forEach((l, i) => {
      const cv = refs.current[i];
      if (!cv) return;
      const cfg = l.kind === "data" ? dataConfig(l.k, l.L) : emptyConfig(l.L);
      charts.push(new Chart(cv, cfg));
    });
    return () => {
      charts.forEach((c) => c.destroy());
    };
  }, []);

  return (
    <div
      style={{
        position: "absolute",
        left: 0,
        top: 0,
        width: Math.round(FIG_W * sx),
        height: Math.round(FIG_H * sy),
        overflow: "hidden",
        background: "#fff",
      }}
    >
      <div
        style={{
          position: "absolute",
          left: 0,
          top: 0,
          width: FIG_W,
          height: FIG_H,
          background: "#fff",
          fontFamily: FONT,
          transform: `scale(${sx}, ${sy})`,
          transformOrigin: "0 0",
        }}
      >
        {layouts.map((l, i) => (
          <canvas
            key={i}
            ref={(el) => {
              refs.current[i] = el;
            }}
            width={l.w}
            height={l.h}
            style={{ position: "absolute", left: l.left, top: l.top, width: l.w, height: l.h }}
          />
        ))}
        {SERIES_NAMES.map((name, s) => (
          <React.Fragment key={name}>
            <svg
              width={LEGEND_LINE_LEN}
              height={30}
              style={{ position: "absolute", left: LEGEND_LINE_X[s], top: LEGEND_Y - 15 }}
            >
              <line
                x1={0}
                y1={15}
                x2={LEGEND_LINE_LEN}
                y2={15}
                stroke={`rgb(${COLORS[s][0]},${COLORS[s][1]},${COLORS[s][2]})`}
                strokeWidth={LINE_W}
                strokeDasharray={DASHES[s].length ? DASHES[s].join(" ") : undefined}
              />
            </svg>
            <div
              style={{
                position: "absolute",
                left: LEGEND_TEXT_X[s],
                top: LEGEND_Y - 44,
                fontSize: LEGEND_FONT,
                lineHeight: `${LEGEND_FONT}px`,
                whiteSpace: "nowrap",
                color: "#000",
                fontFamily: FONT,
              }}
            >
              {name}
            </div>
          </React.Fragment>
        ))}
      </div>
    </div>
  );
}
